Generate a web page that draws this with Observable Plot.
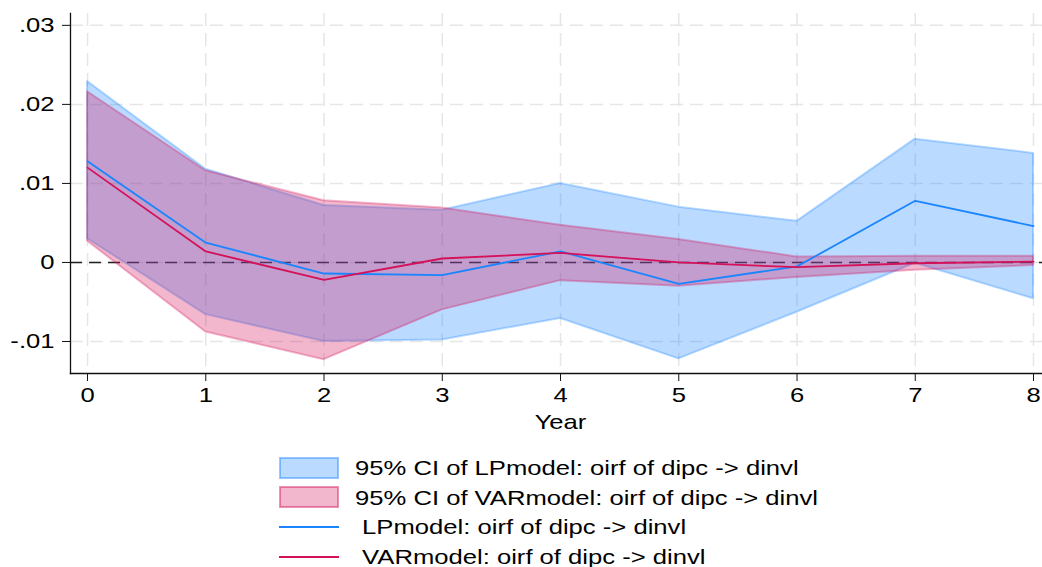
<!DOCTYPE html>
<html>
<head>
<meta charset="utf-8">
<script src="https://cdn.jsdelivr.net/npm/d3@7"></script>
<script src="https://cdn.jsdelivr.net/npm/@observablehq/plot@0.6"></script>
<style>
  html, body { margin: 0; padding: 0; background: #fff; }
  body { width: 1042px; height: 567px; position: relative; overflow: hidden; font-family: "Liberation Sans", Arial, sans-serif; }
  #chart { position: absolute; left: 0; top: 0; }
  #legend { position: absolute; left: 279px; top: 453px; }
  .row { display: flex; align-items: center; height: 29.6px; }
  .key { width: 60px; height: 29.6px; display: flex; align-items: center; }
  .lbl { margin-left: 16px; font-size: 21px; color: #000; white-space: pre; line-height: 21px; transform: scaleX(1.22); transform-origin: left center; }
</style>
</head>
<body>
<div id="chart"></div>
<div id="legend"></div>
<script>
// ---- data ----
const years = [0, 1, 2, 3, 4, 5, 6, 7, 8];
const lpPoint = [0.0128, 0.0025, -0.0014, -0.0016, 0.0014, -0.0027, -0.0005, 0.0078, 0.0046];
const lpLower = [0.0030, -0.0066, -0.0100, -0.0098, -0.0071, -0.0122, -0.0063, -0.0001, -0.0046];
const lpUpper = [0.0229, 0.0118, 0.0072, 0.0066, 0.0100, 0.0070, 0.0052, 0.0156, 0.0138];
const varPoint = [0.0120, 0.0014, -0.0022, 0.0005, 0.0012, 0.0000, -0.0006, -0.0001, 0.0001];
const varLower = [0.0027, -0.0088, -0.0123, -0.0060, -0.0023, -0.0030, -0.0019, -0.0010, -0.0004];
const varUpper = [0.0216, 0.0116, 0.0078, 0.0069, 0.0047, 0.0029, 0.0007, 0.0008, 0.0008];
const yTicks = [-0.01, 0, 0.01, 0.02, 0.03];
const yTickLabels = ["-.01", "0", ".01", ".02", ".03"];
const xTickLabels = ["0", "1", "2", "3", "4", "5", "6", "7", "8"];
const seriesNames = [
  "95% CI of LPmodel: oirf of dipc -> dinvl",
  "95% CI of VARmodel: oirf of dipc -> dinvl",
  " LPmodel: oirf of dipc -> dinvl",
  " VARmodel: oirf of dipc -> dinvl"
];
const xLabel = "Year";

const blue = "#1a85ff";
const red = "#d41159";
const textStretch = 1.22;

const lp = years.map((t, i) => ({t, lo: lpLower[i], hi: lpUpper[i], v: lpPoint[i]}));
const vr = years.map((t, i) => ({t, lo: varLower[i], hi: varUpper[i], v: varPoint[i]}));

const font = "'Liberation Sans', Arial, sans-serif";

const plot = Plot.plot({
  width: 1042,
  height: 440,
  marginLeft: 70,
  marginRight: 0,
  marginTop: 13,
  marginBottom: 67,
  style: {fontFamily: font, fontSize: "21px", color: "#000", background: "#fff", overflow: "visible"},
  x: {domain: [-0.144, 8.076], ticks: years},
  y: {domain: [-0.01405, 0.0315], ticks: yTicks},
  marks: [
    Plot.gridX(years, {stroke: "#e6e6e6", strokeOpacity: 1, strokeWidth: 1.5, strokeDasharray: "13,7"}),
    Plot.gridY(yTicks, {stroke: "#e6e6e6", strokeOpacity: 1, strokeWidth: 1.5, strokeDasharray: "13,7"}),
    Plot.ruleY([0], {stroke: "#222", strokeWidth: 1.5, strokeDasharray: "12,7"}),
    Plot.areaY(lp, {x: "t", y1: "lo", y2: "hi", fill: blue, fillOpacity: 0.3, stroke: blue, strokeOpacity: 0.3, strokeWidth: 2}),
    Plot.areaY(vr, {x: "t", y1: "lo", y2: "hi", fill: red, fillOpacity: 0.3, stroke: red, strokeOpacity: 0.3, strokeWidth: 2}),
    Plot.lineY(lp, {x: "t", y: "v", stroke: blue, strokeWidth: 1.8}),
    Plot.lineY(vr, {x: "t", y: "v", stroke: red, strokeWidth: 1.8}),
    Plot.frame({anchor: "left", stroke: "#111", strokeWidth: 1.3}),
    Plot.frame({anchor: "bottom", stroke: "#111", strokeWidth: 1.3}),
    Plot.axisY(yTicks, {tickSize: 8, tickPadding: 8, tickFormat: (d) => yTickLabels[yTicks.indexOf(d)], label: null, stroke: "#111", fontSize: 21}),
    Plot.axisX(years, {tickSize: 8, tickPadding: 6, tickFormat: (d) => xTickLabels[years.indexOf(d)], label: null, stroke: "#111", fontSize: 21}),
    Plot.text([xLabel], {frameAnchor: "bottom", lineAnchor: "middle", dx: 4, dy: 49, text: (d) => d, fontSize: 21, fill: "#000"})
  ]
});
document.getElementById("chart").appendChild(plot);

// stretch text horizontally to match the reference's wide lettering
plot.querySelectorAll("text").forEach((t) => {
  const len = t.getComputedTextLength();
  if (len > 0) {
    t.setAttribute("textLength", len * textStretch);
    t.setAttribute("lengthAdjust", "spacingAndGlyphs");
  }
});

// ---- legend ----
const legend = document.getElementById("legend");
const keys = [
  {type: "area", color: blue},
  {type: "area", color: red},
  {type: "line", color: blue},
  {type: "line", color: red}
];
const svgNS = "http://www.w3.org/2000/svg";
seriesNames.forEach((name, i) => {
  const k = keys[i];
  const row = document.createElement("div");
  row.className = "row";
  const key = document.createElement("div");
  key.className = "key";
  const s = document.createElementNS(svgNS, "svg");
  s.setAttribute("width", 60);
  s.setAttribute("height", 24);
  if (k.type === "area") {
    const r = document.createElementNS(svgNS, "rect");
    r.setAttribute("x", 1); r.setAttribute("y", 2); r.setAttribute("width", 58); r.setAttribute("height", 20);
    r.setAttribute("fill", k.color); r.setAttribute("fill-opacity", 0.3);
    r.setAttribute("stroke", k.color); r.setAttribute("stroke-opacity", 0.45); r.setAttribute("stroke-width", 2);
    s.appendChild(r);
  } else {
    const l = document.createElementNS(svgNS, "line");
    l.setAttribute("x1", 0); l.setAttribute("x2", 60); l.setAttribute("y1", 12); l.setAttribute("y2", 12);
    l.setAttribute("stroke", k.color); l.setAttribute("stroke-width", 2);
    s.appendChild(l);
  }
  key.appendChild(s);
  const lbl = document.createElement("div");
  lbl.className = "lbl";
  lbl.textContent = name;
  row.appendChild(key);
  row.appendChild(lbl);
  legend.appendChild(row);
});
</script>
</body>
</html>
